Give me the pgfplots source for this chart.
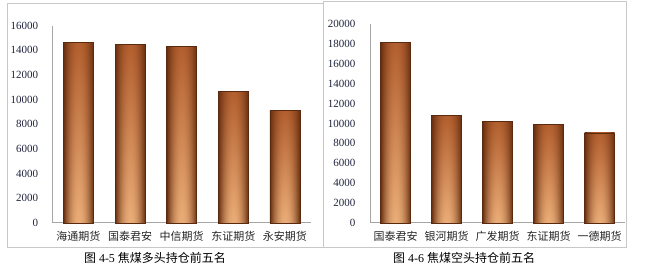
\documentclass[border=0pt]{standalone}
\usepackage{fontspec}
\setmainfont{Liberation Serif}
\newfontfamily\cjk{Noto Sans CJK SC}
\usepackage{pgfplots}
\usepackage{pgfplotstable}
\pgfplotsset{compat=1.18}
\definecolor{barEdge}{HTML}{5A2A10}
\definecolor{tickcol}{RGB}{30,35,60}
\definecolor{boxcol}{RGB}{200,200,200}
% functional shading (path box maps to 25bp..75bp): dark edges, dark top, light bottom centre
\pgfdeclarefunctionalshading{barfun}{\pgfpoint{0bp}{0bp}}{\pgfpoint{100bp}{100bp}}{}{
  25 sub 50 div 1 exch sub
  exch 25 sub 50 div 2 mul 1 sub dup mul 1 exch sub
  1 index 0.22 mul 0.30 add 1 index mul 0.40 add
  2 index 0.31 mul 0.19 add 2 index mul 0.18 add
  3 index 0.29 mul 0.12 add 3 index mul 0.06 add
  5 -2 roll pop pop
}

\pgfplotstableread{
x y
0 14650
1 14500
2 14300
3 10650
4 9100
}\longdata
\pgfplotstableread{
x y
0 18150
1 10800
2 10200
3 9900
4 9050
}\shortdata

\pgfplotsset{
  barpanel/.style={
    scale only axis,
    xmin=-0.5, xmax=4.5, ymin=0,
    axis x line*=bottom, axis y line*=left,
    axis line style={gray!70, line width=0.8pt},
    xtick={0,1,2,3,4},
    major tick length=0pt,
    scaled y ticks=false,
    /pgf/number format/1000 sep={},
    /pgf/number format/assume math mode=true,
    yticklabel style={font=\fontsize{11}{13}\selectfont, color=tickcol, xshift=-11pt},
    xticklabel style={font=\cjk\fontsize{11}{13}\selectfont, color=black!85, yshift=-5pt},
    clip=false,
  },
  shadedbar/.style={ybar, bar width=30pt, bar shift=0pt, draw=barEdge, line width=0.4pt,
    shading=barfun},
}

\begin{document}
\begin{tikzpicture}[x=1pt,y=1pt]
\path[use as bounding box] (0,0) rectangle (651,269);
\draw[boxcol, line width=1pt] (7,22) rectangle (323.5,265.5);
\draw[boxcol, line width=1pt] (323.5,21.5) rectangle (626,268);

\begin{axis}[barpanel, at={(52.7pt,46.3pt)}, anchor=south west,
  width=258pt, height=197pt, ymax=16000, ytick={0,2000,...,16000},
  xticklabels={海通期货,国泰君安,中信期货,东证期货,永安期货}]
\pgfplotsinvokeforeach{-0.2:0.2,0.8:1.2,1.8:2.2,2.8:3.2,3.8:4.2}{
  \addplot[shadedbar, restrict x to domain=#1] table[x=x,y=y] {\longdata};
}
\end{axis}

\begin{axis}[barpanel, at={(370pt,46.3pt)}, anchor=south west,
  width=255pt, height=198.4pt, ymax=20000, ytick={0,2000,...,20000},
  xticklabels={国泰君安,银河期货,广发期货,东证期货,一德期货}]
\pgfplotsinvokeforeach{-0.2:0.2,0.8:1.2,1.8:2.2,2.8:3.2,3.8:4.2}{
  \addplot[shadedbar, restrict x to domain=#1] table[x=x,y=y] {\shortdata};
}
\end{axis}

\node[font=\fontsize{12}{14}\selectfont] at (155,11) {{\cjk 图} 4-5 {\cjk 焦煤多头持仓前五名}};
\node[font=\fontsize{12}{14}\selectfont] at (464,11) {{\cjk 图} 4-6 {\cjk 焦煤空头持仓前五名}};
\end{tikzpicture}
\end{document}
